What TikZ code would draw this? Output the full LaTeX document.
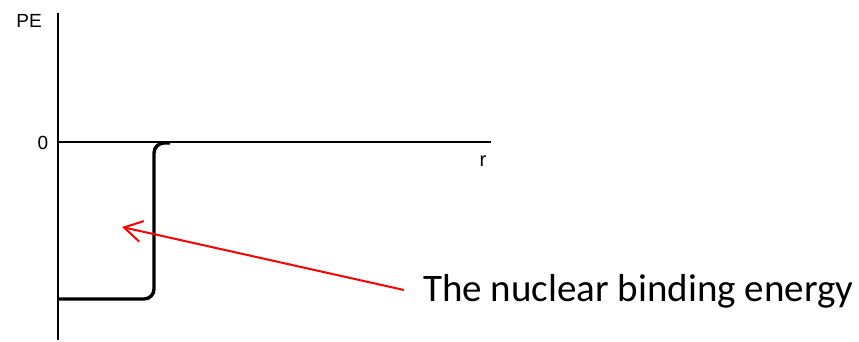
\documentclass[tikz,border=0pt]{standalone}
\usepackage{fontspec}
\setmainfont{Liberation Sans}
\newfontfamily\calfont{Carlito}
\usetikzlibrary{arrows.meta}
\begin{document}
\begin{tikzpicture}[x=1pt,y=-1pt]
      \useasboundingbox (0,0) rectangle (859,341);
      % Nodes
      \node (pe) at (29,21) {\fontsize{19}{19}\selectfont PE};
      \node (zero) at (43,143) {\fontsize{19}{19}\selectfont 0};
      \node (r) at (483,161) {\fontsize{20}{20}\selectfont r};
      \node (label) [anchor=base west, inner sep=0pt] at (423,301) {\calfont\fontsize{39}{39}\selectfont The nuclear binding energy};

      \coordinate (ytop) at (58,13);
      \coordinate (ybot) at (58,340);
      \coordinate (orig) at (58,142);
      \coordinate (xend) at (491,142);
      \coordinate (well) at (122,227);
      \coordinate (tail) at (404,290);

      % Axes
      \draw [line width=1.8pt] (ytop) -- (ybot);
      \draw [line width=1.8pt] (orig) -- (xend);

      % Potential
      \draw [line width=3.4pt, rounded corners=10pt] (58,299) -- (154,299) -- (154,143) -- (170,143);

      % Edges
      \draw [red, line width=2pt, -{Straight Barb[length=18pt,width=21pt]}] (tail) -- (well);
  \end{tikzpicture}
\end{document}
